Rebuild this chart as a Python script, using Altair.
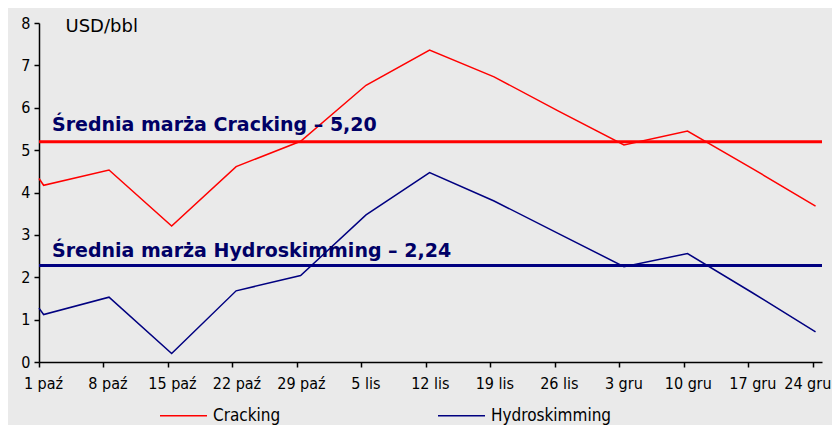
import altair as alt
import pandas as pd

# --- data ---
days = [0, 0.5, 7.6, 14.4, 21.4, 28.4, 35.5, 42.4, 49.4, 56.4, 63.5, 70.4, 77.4, 84.3]
cracking = [4.33, 4.17, 4.53, 3.21, 4.61, 5.21, 6.53, 7.36, 6.73, 5.92, 5.12, 5.45, 4.57, 3.68]
hydro = [1.27, 1.12, 1.53, 0.20, 1.68, 2.04, 3.47, 4.47, 3.80, 3.03, 2.25, 2.56, 1.64, 0.71]
tick_labels = ["1 paź", "8 paź", "15 paź", "22 paź", "29 paź", "5 lis", "12 lis",
               "19 lis", "26 lis", "3 gru", "10 gru", "17 gru", "24 gru"]
series = ["Cracking", "Hydroskimming"]
colors = ["#FF0000", "#000080"]
averages = [5.20, 2.28]
avg_labels = ["Średnia marża Cracking – 5,20", "Średnia marża Hydroskimming – 2,24"]

n = len(days)
df = pd.DataFrame({
    "day": days * 2,
    "value": cracking + hydro,
    "series": [series[0]] * n + [series[1]] * n,
})

W, H = 783, 339
FONT = "DejaVu Sans Condensed, DejaVu Sans"
TEXT_COLOR = "#000066"
last_tick = 7 * (len(tick_labels) - 1)

label_expr = "[" + ",".join(f"'{t}'" for t in tick_labels) + "][round(datum.value/7)]"

x = alt.X("day:Q",
          scale=alt.Scale(domain=[0, 85], nice=False, zero=False),
          axis=alt.Axis(values=[7 * i for i in range(len(tick_labels))], labelExpr=label_expr,
                        title=None, grid=False, tickSize=5, labelPadding=8,
                        labelFlush=False, labelOverlap=False,
                        labelAlign={"condition": {"test": f"datum.value >= {last_tick}", "value": "right"},
                                    "value": "center"},
                        labelOffset={"condition": {"test": f"datum.value >= {last_tick}", "value": 18},
                                     "value": 4}))
y = alt.Y("value:Q",
          scale=alt.Scale(domain=[0, 8], nice=False),
          axis=alt.Axis(values=list(range(9)), title="USD/bbl", titleAngle=0, titleX=26, titleY=3,
                        titleAlign="left", titleBaseline="middle", titleFontWeight="normal",
                        titleFontSize=18, titleFont="DejaVu Sans", titleColor="black",
                        grid=False, tickSize=5, labelPadding=4))

lines = alt.Chart(df).mark_line(strokeWidth=1.5).encode(
    x=x, y=y,
    color=alt.Color("series:N", scale=alt.Scale(domain=series, range=colors),
                    legend=alt.Legend(title=None, orient="none", legendX=120, legendY=368,
                                      direction="horizontal", symbolType="stroke",
                                      symbolSize=2209, symbolStrokeWidth=1.5,
                                      labelFontSize=17, labelFont=FONT, labelColor="black",
                                      labelOffset=5, columnPadding=154, padding=0)),
)

layers = [lines]
text_dy = [-11, -8]
for i in range(2):
    d = pd.DataFrame({"avg": [averages[i]], "label": [avg_labels[i]]})
    rule = alt.Chart(d).mark_rule(color=colors[i], strokeWidth=3).encode(
        y=alt.Y("avg:Q"), x=alt.value(0), x2=alt.value(W))
    txt = alt.Chart(d).mark_text(align="left", baseline="alphabetic", dy=text_dy[i],
                                 font="DejaVu Sans", fontSize=19, fontWeight="bold",
                                 color=TEXT_COLOR).encode(
        y=alt.Y("avg:Q"), x=alt.value(13), text="label:N")
    layers += [rule, txt]

chart = alt.layer(*layers).properties(
    width=W, height=H,
    padding={"left": 31, "top": 15, "right": 10, "bottom": 63},
    autosize=alt.AutoSizeParams(type="none"),
    background="#EAEAEA",
).configure_view(stroke=None).configure_axis(
    domainColor="black", tickColor="black", labelColor="black",
    labelFontSize=16, labelFont=FONT, domainWidth=1.5, tickWidth=1.5,
)

chart.save("out.html", embed_options={"renderer": "svg", "actions": False})
